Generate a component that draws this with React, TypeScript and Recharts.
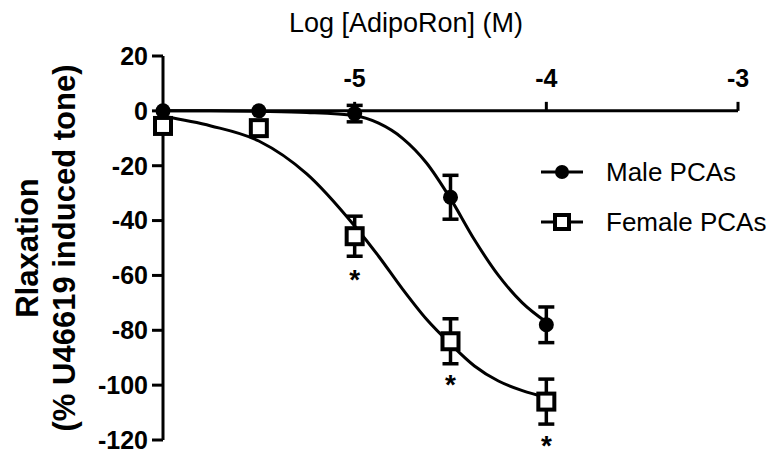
import React from 'react';
import {
    ComposedChart, Line, Scatter, ErrorBar, XAxis, YAxis, ReferenceLine, LabelList,
} from 'recharts';

// measured points (log M, % relaxation, SEM)
const LOG_DOSE = [-6, -5.5, -5, -4.5, -4];
const MALE_MEAN = [0, 0, -1, -31.5, -78];
const MALE_SEM = [0, 0, 3, 8, 6.5];
const FEMALE_MEAN = [-5.5, -6.3, -45.7, -84, -106];
const FEMALE_SEM = [0, 0, 7.3, 8.2, 8.2];
const FEMALE_SIG = ['', '', '*', '*', '*'];

// fitted curves
const FIT_X = [-6, -5.75, -5.5, -5.25, -5, -4.875, -4.75, -4.625, -4.5, -4.375, -4.25, -4.125, -4];
const MALE_FIT = [0, 0, -0.2, -0.6, -1.8, -4.5, -10, -19, -32, -47, -60, -70, -77];
const FEMALE_FIT = [-2, -5.5, -11, -23, -42, -53, -65, -76, -85, -93, -98.5, -102, -104.5];

const SERIES_NAMES = ['Male PCAs', 'Female PCAs'];

const X_TICKS = [-5, -4, -3];
const Y_TICKS = [20, 0, -20, -40, -60, -80, -100, -120];
const X_DOMAIN = [-6, -3];
const Y_DOMAIN = [-120, 20];

const W = 774;
const H = 457;
const MARGIN = { top: 26, right: 36, bottom: 17, left: 83 };
const X_AXIS_H = 30;
const Y_AXIS_W = 80;
const FONT = '"Liberation Sans", Arial, Helvetica, sans-serif';

const plotTop = MARGIN.top + X_AXIS_H;
const plotH = H - plotTop - MARGIN.bottom;
// pixel row of y = 0, where the x axis crosses
const zeroY = plotTop + plotH * (Y_DOMAIN[1] - 0) / (Y_DOMAIN[1] - Y_DOMAIN[0]);

const male = LOG_DOSE.map((x, i) => ({ x, y: MALE_MEAN[i], err: MALE_SEM[i] }));
const female = LOG_DOSE.map((x, i) => ({ x, y: FEMALE_MEAN[i], err: FEMALE_SEM[i], sig: FEMALE_SIG[i] }));
const maleFit = FIT_X.map((x, i) => ({ x, y: MALE_FIT[i] }));
const femaleFit = FIT_X.map((x, i) => ({ x, y: FEMALE_FIT[i] }));

const TopTick = (props: any) => {
    const { x, payload } = props;
    return (
        <g>
            <line x1={x} x2={x} y1={zeroY} y2={zeroY - 9} stroke="#000" strokeWidth={3} />
            <text x={x} y={zeroY - 24} textAnchor="middle" fontFamily={FONT} fontWeight="bold" fontSize={25} fill="#000">
                {payload.value}
            </text>
        </g>
    );
};

const Circle = (props: any) => <circle cx={props.cx} cy={props.cy} r={7.5} fill="#000" />;
const Square = (props: any) => (
    <rect x={props.cx - 8} y={props.cy - 8} width={16} height={16} fill="#fff" stroke="#000" strokeWidth={4} />
);

const Star = (props: any) => {
    const { x, y, width, height, value } = props;
    if (!value) return null;
    return (
        <text x={x + (width || 0) / 2} y={y + (height || 0) / 2 + 53} textAnchor="middle" fontFamily={FONT} fontWeight="bold" fontSize={28} fill="#000">
            {value}
        </text>
    );
};

const YLabel = () => (
    <g fontFamily={FONT} fontWeight="bold" fontSize={31} fill="#000">
        <text x={0} y={0} transform="translate(38, 248) rotate(-90)" textAnchor="middle">Rlaxation</text>
        <text x={0} y={0} transform="translate(75, 248) rotate(-90)" textAnchor="middle">(% U46619 induced tone)</text>
    </g>
);

const XLabel = () => (
    <text x={406} y={32} textAnchor="middle" fontFamily={FONT} fontSize={27} fill="#000">
        Log [AdipoRon] (M)
    </text>
);

const LegendIcon = ({ square }: { square: boolean }) => (
    <svg width={44} height={20} style={{ display: 'block' }}>
        <line x1={1} x2={43} y1={10} y2={10} stroke="#000" strokeWidth={3} />
        {square
            ? <rect x={15} y={3} width={14} height={14} fill="#fff" stroke="#000" strokeWidth={4} />
            : <circle cx={22} cy={10} r={7} fill="#000" />}
    </svg>
);

// drawn over the chart so Recharts doesn't reserve room for it
const LegendBox = () => (
    <div style={{ position: 'absolute', left: 540, top: 147, fontFamily: FONT, fontSize: 26, color: '#000' }}>
        {SERIES_NAMES.map((name, i) => (
            <div key={name} style={{ display: 'flex', alignItems: 'center', height: 50 }}>
                <LegendIcon square={i === 1} />
                <span style={{ marginLeft: 22 }}>{name}</span>
            </div>
        ))}
    </div>
);

export default function App() {
    return (
        <div style={{ margin: -8, width: W, height: H, background: '#fff', position: 'relative' }}>
            <ComposedChart width={W} height={H} margin={MARGIN}>
                <XAxis
                    type="number"
                    dataKey="x"
                    orientation="top"
                    domain={X_DOMAIN}
                    ticks={X_TICKS}
                    height={X_AXIS_H}
                    axisLine={false}
                    tickLine={false}
                    tick={<TopTick />}
                    label={<XLabel />}
                />
                <YAxis
                    type="number"
                    dataKey="y"
                    domain={Y_DOMAIN}
                    ticks={Y_TICKS}
                    width={Y_AXIS_W}
                    axisLine={{ stroke: '#000', strokeWidth: 3 }}
                    tickLine={{ stroke: '#000', strokeWidth: 3 }}
                    tickSize={11}
                    tickMargin={4}
                    tick={{ fill: '#000', fontFamily: FONT, fontWeight: 'bold', fontSize: 25 }}
                    label={<YLabel />}
                />
                <ReferenceLine y={0} stroke="#000" strokeWidth={3} />
                <Line data={maleFit} dataKey="y" type="monotone" stroke="#000" strokeWidth={3} dot={false} isAnimationActive={false} />
                <Line data={femaleFit} dataKey="y" type="monotone" stroke="#000" strokeWidth={3} dot={false} isAnimationActive={false} />
                <Scatter name={SERIES_NAMES[0]} data={male} dataKey="y" shape={<Circle />} isAnimationActive={false}>
                    <ErrorBar dataKey="err" direction="y" width={8} stroke="#000" strokeWidth={3.5} />
                </Scatter>
                <Scatter name={SERIES_NAMES[1]} data={female} dataKey="y" shape={<Square />} isAnimationActive={false}>
                    <ErrorBar dataKey="err" direction="y" width={8} stroke="#000" strokeWidth={3.5} />
                    <LabelList dataKey="sig" content={<Star />} />
                </Scatter>
            </ComposedChart>
            <LegendBox />
        </div>
    );
}
